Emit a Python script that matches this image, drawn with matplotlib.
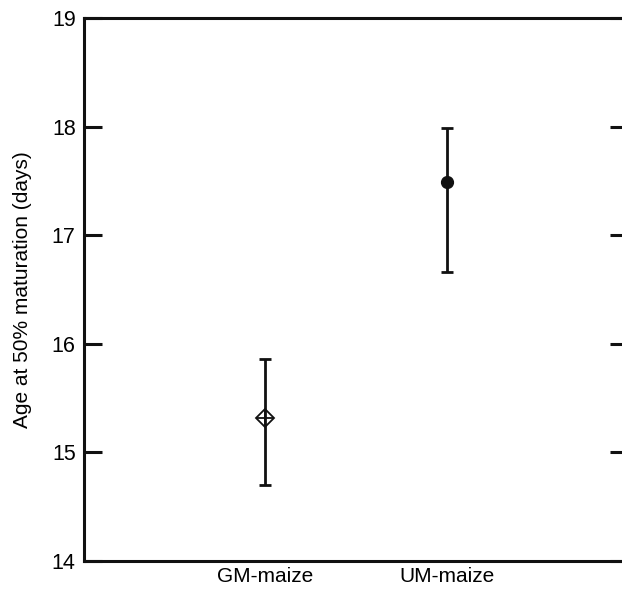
import matplotlib.pyplot as plt

plt.rcParams['font.family'] = ['Liberation Sans', 'DejaVu Sans']

# Data
groups = ['GM-maize', 'UM-maize']
means = [15.32, 17.49]
upper = [15.86, 17.99]
lower = [14.70, 16.66]
yticks = [14, 15, 16, 17, 18, 19]

fig = plt.figure(figsize=(6.22, 5.91), dpi=100)
ax = fig.add_axes([0.135, 0.0508, 0.875, 0.9187])

xpos = [1, 2]
err = [[m - l for m, l in zip(means, lower)], [u - m for m, u in zip(means, upper)]]
ax.errorbar(xpos, means, yerr=err, fmt='none', ecolor='#111111',
            elinewidth=2.0, capsize=4, capthick=2.0)

# GM: open diamond with cross
ax.plot(xpos[0], means[0], marker='D', ms=9, mfc='white', mec='#111111', mew=1.3)
ax.plot(xpos[0], means[0], marker='+', ms=12, mec='#111111', mew=1.3)
ax.plot([xpos[0], xpos[0]], [means[0] - 0.06, means[0] + 0.06], color='#111111', lw=2.0)
# UM: filled circle
ax.plot(xpos[1], means[1], marker='o', ms=8.5, color='#111111')

ax.set_xlim(0, 3)
ax.set_ylim(14, 19)
ax.set_yticks(yticks)
ax.set_xticks(xpos)
ax.set_xticklabels(groups)

for side in ['left', 'top', 'bottom']:
    ax.spines[side].set_linewidth(2.2)
    ax.spines[side].set_color('#111111')
ax.spines['right'].set_visible(False)

ax.tick_params(axis='y', direction='in', length=13, width=2.2, color='#111111',
               right=True, labelsize=15.5, pad=6)
ax.tick_params(axis='x', length=0, labelsize=15, pad=4)

ax.set_ylabel('Age at 50% maturation (days)', fontsize=15, labelpad=14)

fig.savefig('out.png', dpi=100)
